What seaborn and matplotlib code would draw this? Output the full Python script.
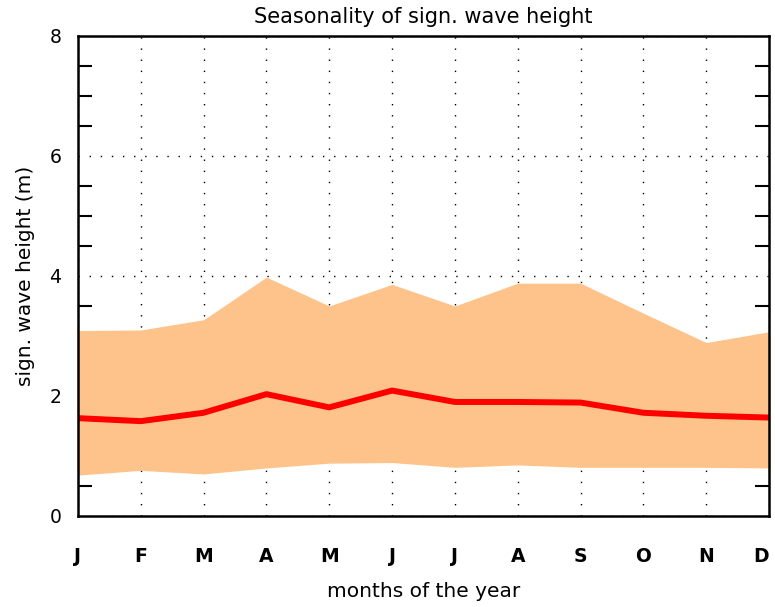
import matplotlib

matplotlib.use("Agg")

import matplotlib.pyplot as plt
import pandas as pd
import seaborn as sns
from matplotlib.ticker import FixedLocator, MultipleLocator

# monthly climatology of significant wave height (m)
months = ["J", "F", "M", "A", "M", "J", "J", "A", "S", "O", "N", "D"]
hs_mean = [1.63, 1.58, 1.72, 2.03, 1.81, 2.09, 1.90, 1.90, 1.89, 1.72, 1.67, 1.64]
hs_upper = [3.09, 3.10, 3.27, 3.98, 3.50, 3.86, 3.50, 3.88, 3.88, 3.38, 2.89, 3.07]
hs_lower = [0.68, 0.76, 0.70, 0.80, 0.88, 0.89, 0.81, 0.85, 0.81, 0.81, 0.81, 0.80]

band_color = "#fec38a"
line_color = "#ff0000"


def main() -> None:
    sns.set_theme(style="white")
    plt.rcParams["font.family"] = ["DejaVu Sans"]
    plt.rcParams["text.color"] = "black"
    plt.rcParams["axes.labelcolor"] = "black"
    plt.rcParams["xtick.color"] = "black"
    plt.rcParams["ytick.color"] = "black"

    df = pd.DataFrame(
        {
            "month_idx": range(len(months)),
            "mean": hs_mean,
            "upper": hs_upper,
            "lower": hs_lower,
        }
    )

    fig = plt.figure(figsize=(7.75, 6.07), dpi=100)
    ax = fig.add_axes([0.1006, 0.15, 0.8917, 0.7907])

    ax.set_xlim(0, len(months) - 1)
    ax.set_ylim(0, 8)

    # dotted grid under the band
    ax.set_axisbelow(True)
    ax.grid(True, which="major", color="black", linestyle=(0, (1, 7)), linewidth=1.0)

    ax.fill_between(df["month_idx"], df["lower"], df["upper"], color=band_color, linewidth=0, zorder=2)
    sns.lineplot(data=df, x="month_idx", y="mean", color=line_color, linewidth=4.3, ax=ax, zorder=3)

    ax.xaxis.set_major_locator(FixedLocator(list(range(len(months)))))
    ax.set_xticklabels(months, fontsize=13.5, fontweight="bold")
    ax.tick_params(axis="x", which="major", length=0, pad=22)
    # keep the last month label inside the figure
    ax.get_xticklabels()[-1].set_horizontalalignment("right")
    ax.get_xticklabels()[0].set_horizontalalignment("center")

    ax.yaxis.set_major_locator(MultipleLocator(2))
    ax.yaxis.set_minor_locator(MultipleLocator(0.5))
    ax.tick_params(axis="y", which="major", length=0, pad=12, labelsize=13.5)
    ax.tick_params(axis="y", which="minor", direction="in", length=10, width=1.5,
                   left=True, right=True, color="black")

    for spine in ax.spines.values():
        spine.set_color("black")
        spine.set_linewidth(1.8)
        spine.set_zorder(5)

    ax.set_title("Seasonality of sign. wave height", fontsize=15, pad=9)
    ax.set_xlabel("months of the year", fontsize=14.5, labelpad=12)
    ax.set_ylabel("sign. wave height (m)", fontsize=14.5, labelpad=10)

    fig.savefig("out.png", dpi=100)
    plt.close(fig)


if __name__ == "__main__":
    main()
